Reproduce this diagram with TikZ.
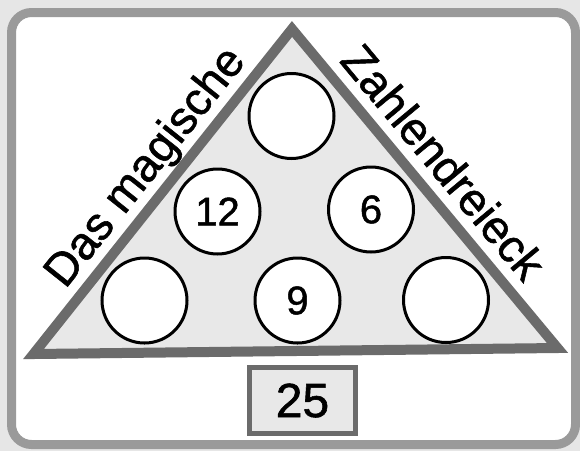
\documentclass[tikz,border=0pt]{standalone}
\usepackage{fontspec}
\setmainfont{Liberation Sans}[FakeBold=1.2]
\newfontface\medium{Liberation Sans}[FakeBold=1.2]
\usetikzlibrary{positioning}

\definecolor{outside}{HTML}{E6E6E6}
\definecolor{framegray}{HTML}{9A9A9A}
\definecolor{tridark}{HTML}{6B6B6B}
\definecolor{trifill}{HTML}{E8E8E8}

\begin{document}
\begin{tikzpicture}[
x=1pt, y=-1pt,
ring/.style={
    circle,
    draw=black,
    line width=3pt,
    fill=white,
    minimum size=85pt,
    inner sep=0pt,
    font=\medium\fontsize{40}{42}\selectfont
},
sidetext/.style={
    sloped,
    inner sep=0pt,
    text depth=0pt,
    font=\medium\fontsize{46}{50}\selectfont
},
sumbox/.style={
    draw=tridark,
    line width=5pt,
    fill=trifill,
    minimum width=106pt,
    minimum height=66pt,
    inner sep=0pt,
    font=\medium\fontsize{48}{50}\selectfont
}
]

\useasboundingbox[fill=outside] (0,0) rectangle (580,451);
\draw[line width=9pt, draw=framegray, fill=white, rounded corners=20pt]
    (11.5,12.5) rectangle (575.5,444.5);

% triangle
\coordinate (apex) at (292,29);
\coordinate (bl) at (33.5,354);
\coordinate (br) at (557.5,348);
\draw[line width=10pt, draw=tridark, fill=trifill, line join=miter]
    (apex) -- (br) -- (bl) -- cycle;

\node[ring] (top) at (291.5,116) {};
\node[ring] (left) at (217.5,211.5) {12};
\node[ring] (right) at (371,209.5) {6};
\node[ring] (bleft) at (144.5,300.5) {};
\node[ring] (bmid) at (297.5,300.5) {9};
\node[ring] (bright) at (446,300) {};

\path (bl) -- (apex) node[sidetext, pos=0.52, above=15pt] (das) {Das magische};
\path (apex) -- (br) node[sidetext, pos=0.48, above=15pt] (zahl) {Zahlendreieck};

\node[sumbox] (sum) at (302.5,400.5) {25};

\end{tikzpicture}
\end{document}
